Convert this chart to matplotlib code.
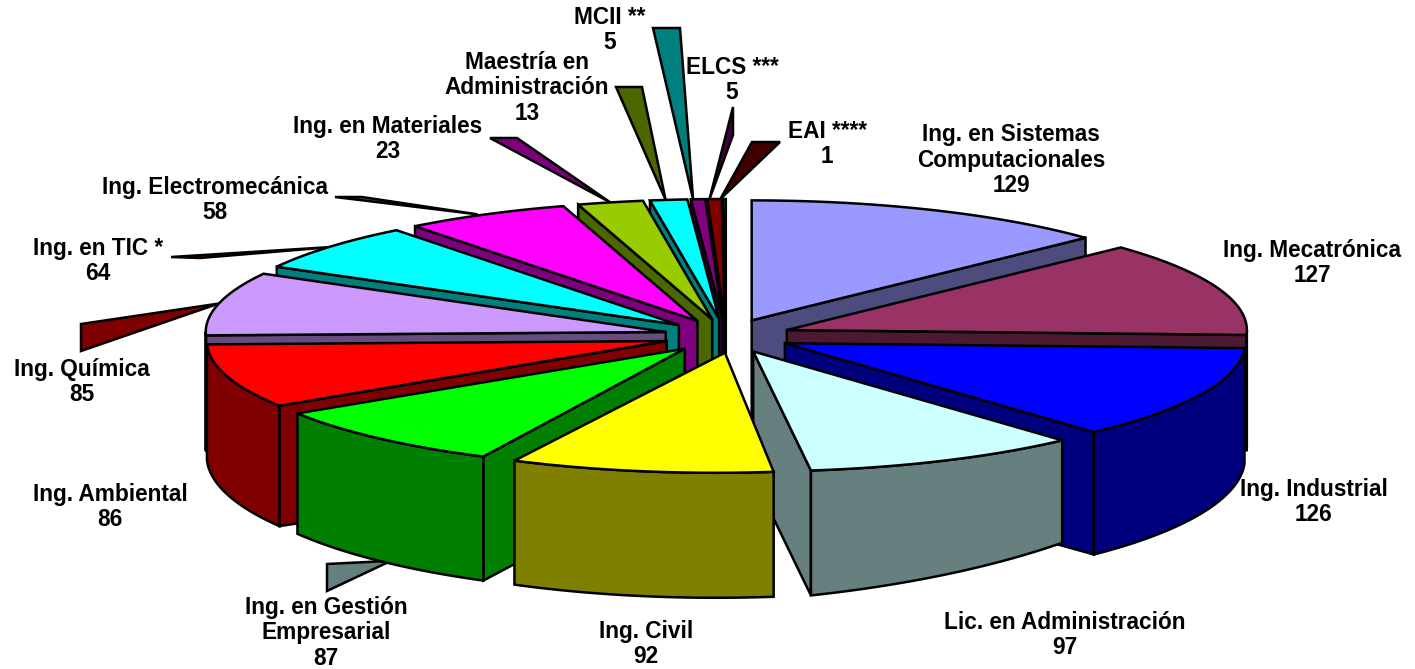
import numpy as np
import matplotlib
matplotlib.use("Agg")
from matplotlib import pyplot as plt
from matplotlib.patches import Polygon

categories = ["Ing. en Sistemas\nComputacionales", "Ing. Mecatrónica", "Ing. Industrial",
              "Lic. en Administración", "Ing. Civil", "Ing. en Gestión\nEmpresarial",
              "Ing. Ambiental", "Ing. Química", "Ing. en TIC *", "Ing. Electromecánica",
              "Ing. en Materiales", "Maestría en\nAdministración", "MCII **", "ELCS ***", "EAI ****"]
values = [129, 127, 126, 97, 92, 87, 86, 85, 64, 58, 23, 13, 5, 5, 1]

top_colors = ["#9999FF", "#993366", "#0000FF", "#CCFFFF", "#FFFF00", "#00FF00", "#FF0000", "#CC99FF",
              "#00FFFF", "#FF00FF", "#99CC00", "#00FFFF", "#800080", "#800000", "#008080"]
side_colors = ["#4C4C7F", "#4C1933", "#00007F", "#667F7F", "#7F7F00", "#007F00", "#7F0000", "#664C7F",
               "#007F7F", "#7F007F", "#4C6600", "#007F7F", "#400040", "#400000", "#004040"]

# label centres, in pixels of the 1415x669 picture
label_pos = [(1011, 160), (1312, 263), (1314, 502), (1065, 635), (646, 644), (326, 633), (110, 507),
             (82, 382), (98, 261), (215, 200), (388, 139), (527, 88), (610, 30), (732, 80), (827, 144)]

# leaders: index of slice, two base points near the label, colour, shift of the tip in x
leaders = [(5, (327, 564), (327, 591), "#667F7F", 12),
           (7, (81, 324), (81, 351), "#7F0000", 0),
           (8, (171, 257), (200, 258), "#7F0000", 4),
           (9, (335, 197), (362, 197), "#4C4C7F", -8),
           (10, (490, 138), (517, 138), "#7F007F", 0),
           (11, (616, 87), (642, 87), "#4C6600", -3),
           (12, (653, 28), (680, 28), "#007F7F", -5),
           (13, (733, 107), (733, 135), "#400040", -5),
           (14, (752, 142), (780, 142), "#400000", -4)]

cx, cy = 726, 336
rx, ry = 460, 120
explode_right, explode_left, explode_y = 65, 62, 17
depth_side, depth_extra = 115, 10
lw = 1.8

# the wall of Lic. en Administración runs shallower towards its right end
wall_lift = {3: 20}
# the point of Ing. Civil sits right of its rim centre
apex_nudge = {4: 9}


def rim(t, ax0, ay0):
    return ax0 + rx * np.sin(t), ay0 - ry * np.cos(t)


def depth(t):
    return depth_side + depth_extra * np.maximum(0, -np.cos(t))


fig = plt.figure(figsize=(14.15, 6.69), dpi=100)
ax = fig.add_axes([0, 0, 1, 1])
ax.set_xlim(0, 1415)
ax.set_ylim(669, 0)
ax.axis("off")

edges = np.cumsum([0] + values) / sum(values) * 2 * np.pi
mids = (edges[:-1] + edges[1:]) / 2
apex_x = cx + np.where(np.sin(mids) > 0, explode_right, explode_left) * np.sin(mids)
apex_y = cy - explode_y * np.cos(mids)

# leaders go behind the pie
for i, p1, p2, col, dx in leaders:
    tx, ty = rim(mids[i], apex_x[i], apex_y[i])
    if i == 5:
        ty = ty + depth(mids[i])
    ax.add_patch(Polygon([p1, p2, (tx + dx, ty)], closed=True, fc=col, ec="black", lw=lw, zorder=1))

# back slices first
order = np.argsort(-np.cos(mids))
z = 2
for i in order:
    t0, t1 = edges[i], edges[i + 1]
    a, b = apex_x[i], apex_y[i]
    ts = np.linspace(t0, t1, 60)
    xs, ys = rim(ts, a, b)
    if t1 < np.pi:
        ex, ey = rim(t1, a, b)
        ax.add_patch(Polygon([(a, b), (ex, ey), (ex, ey + depth(t1)), (a, b + depth_side + depth_extra)],
                             fc=side_colors[i], ec="black", lw=lw, zorder=z))
    if t0 > np.pi:
        ex, ey = rim(t0, a, b)
        ax.add_patch(Polygon([(a, b), (ex, ey), (ex, ey + depth(t0)), (a, b + depth_side + depth_extra)],
                             fc=side_colors[i], ec="black", lw=lw, zorder=z))
    lo, hi = max(t0, np.pi / 2), min(t1, 3 * np.pi / 2)
    if hi > lo:
        tw = np.linspace(lo, hi, 60)
        wx, wy = rim(tw, a, b)
        wd = depth(tw) - wall_lift.get(i, 0) * (hi - tw) / (hi - lo)
        wall = list(zip(wx, wy)) + list(zip(wx[::-1], (wy + wd)[::-1]))
        ax.add_patch(Polygon(wall, fc=side_colors[i], ec="black", lw=lw, zorder=z))
    ax.add_patch(Polygon([(a + apex_nudge.get(i, 0), b)] + list(zip(xs, ys)), fc=top_colors[i],
                         ec="black", lw=lw, zorder=z))
    z += 1

for cat, val, pos in zip(categories, values, label_pos):
    ax.text(pos[0], pos[1], f"{cat}\n{val}", ha="center", va="center", family="Liberation Sans",
            fontweight="bold", fontsize=16.3, linespacing=1.15, zorder=50)

fig.savefig("out.png", dpi=100)
